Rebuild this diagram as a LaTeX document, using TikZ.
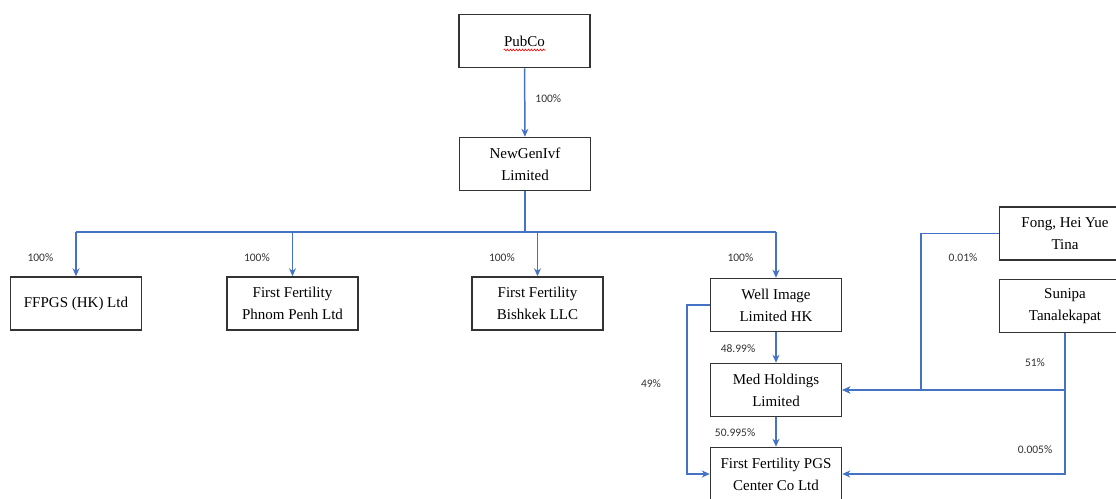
\documentclass[tikz,border=0pt]{standalone}
\usepackage{fontspec}
\setmainfont{Liberation Serif}
\newfontfamily\pctfont{Carlito}
\usetikzlibrary{arrows.meta,decorations.pathmorphing}
\definecolor{linkblue}{RGB}{68,114,196}
\definecolor{pctgray}{RGB}{50,50,50}

\begin{document}
\begin{tikzpicture}[x=1pt,y=-1pt,
	firm/.style={draw=black!80, line width=1.5pt, fill=white, minimum width=131pt, minimum height=53pt, inner sep=0pt, align=center, font=\fontsize{15}{22}\selectfont},
	own/.style={draw=linkblue, line width=1.5pt, -{Stealth[length=8pt,width=7pt]}},
	bar/.style={draw=linkblue, line width=1.5pt},
	pct/.style={text=pctgray, font=\pctfont\fontsize{11.5}{13}\selectfont, inner sep=0pt}]
	\useasboundingbox (0,0) rectangle (1116,498);

	\node[firm] (pubco) at (524.5,41) {PubCo};
	\draw[red, line width=0.6pt, decorate, decoration={snake, amplitude=0.9pt, segment length=3pt}] ([xshift=-21pt,yshift=-9pt]pubco.center) -- ([xshift=21pt,yshift=-9pt]pubco.center);
	\node[firm] (newgen) at (525,164) {NewGenIvf\\Limited};

	\node[firm] (ffpgs) at (76,303.5) {FFPGS (HK) Ltd};
	\node[firm] (phnom) at (292.5,303.5) {First Fertility\\Phnom Penh Ltd};
	\node[firm] (bishkek) at (537.5,303.5) {First Fertility\\Bishkek LLC};
	\node[firm] (well) at (776,305) {Well Image\\Limited HK};
	\node[firm] (med) at (776,390) {Med Holdings\\Limited};
	\node[firm] (pgs) at (776,474) {First Fertility PGS\\Center Co Ltd};
	\node[firm] (fong) at (1065,233.5) {Fong, Hei Yue\\Tina};
	\node[firm] (sunipa) at (1065,306) {Sunipa\\Tanalekapat};

	\draw[own] (pubco) -- (newgen) node[pct, pos=0.45, right=10pt] {100\%};

	% bus to the subsidiaries
	\coordinate (bus) at (525,232);
	\draw[bar, line width=2.4pt] (newgen.south) -- (bus);
	\draw[bar] (ffpgs.north |- bus) -- (well.north |- bus);
	\foreach \n in {ffpgs,phnom,bishkek,well}
		\draw[own] (\n.north |- bus) -- (\n.north) node[pct, midway, left=22pt, yshift=-3pt] {100\%};

	\draw[own] (well) -- (med) node[pct, midway, left=20pt, yshift=-1pt] {48.99\%};
	\draw[own] (med) -- (pgs) node[pct, midway, left=20pt, yshift=-1pt] {50.995\%};
	\draw[own] (well.west) -- ++(-23,0) |- (pgs.west);
	\node[pct] (p49) at (651,384) {49\%};

	% individual shareholders
	\coordinate (fj) at (921,390);
	\coordinate (sj) at (sunipa.south |- med.east);
	\draw[own] (fong.west) -| (fj) -- (med.east);
	\node[pct] (p001) at (963,258) {0.01\%};
	\draw[own, line width=2.2pt] (sunipa.south) -- (sj) -- (med.east);
	\node[pct] (p51) at (1035,363) {51\%};
	\draw[own] (sj) |- (pgs.east);
	\node[pct] (p0005) at (1035,450) {0.005\%};
\end{tikzpicture}
\end{document}
